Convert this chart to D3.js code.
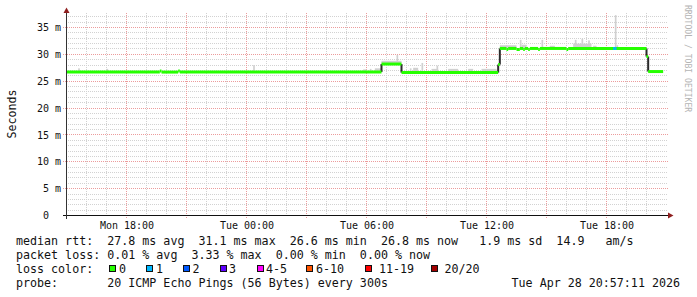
<!DOCTYPE html>
<html>
<head>
<meta charset="utf-8">
<script src="https://cdn.jsdelivr.net/npm/d3@7"></script>
<style>
  body { margin: 0; background: #fff; }
  text { font-family: "DejaVu Sans Mono", monospace; white-space: pre; }
</style>
</head>
<body>
<svg id="chart"></svg>
<script>
// ---------- DATA ----------
const timeStart = "2026-04-27 15:00";
const timeEnd = "2026-04-28 21:00";
const xTicks = ["2026-04-27 18:00", "2026-04-28 00:00", "2026-04-28 06:00", "2026-04-28 12:00", "2026-04-28 18:00"];
const yTicks = [0, 5, 10, 15, 20, 25, 30, 35]; // milliseconds
const yMax = 37.7;

// median rtt (ms), each value holds until the next time
const medianTimes = [
	"2026-04-27 15:00", "2026-04-27 19:40", "2026-04-27 19:45", "2026-04-27 20:35", "2026-04-27 20:40",
	"2026-04-28 06:45", "2026-04-28 07:45", "2026-04-28 12:35", "2026-04-28 12:40",
	"2026-04-28 13:00", "2026-04-28 13:05", "2026-04-28 13:30", "2026-04-28 13:40",
	"2026-04-28 13:50", "2026-04-28 13:55", "2026-04-28 14:05", "2026-04-28 14:10",
	"2026-04-28 14:35", "2026-04-28 14:40", "2026-04-28 16:00", "2026-04-28 16:05",
	"2026-04-28 20:00", "2026-04-28 20:05",
];
const medianValues = [
	26.7, 26.9, 26.7, 26.9, 26.7,
	28.2, 26.6, 28.1, 31.1,
	30.9, 31.1, 30.9, 31.1,
	30.9, 31.1, 30.9, 31.1,
	30.9, 31.1, 30.9, 31.1,
	29.6, 26.8,
];
const medianEnd = "2026-04-28 20:50";

// smoke: spread of the pings above the median (ms)
const smokeStart = [
	"2026-04-27 15:35", "2026-04-27 17:00", "2026-04-28 00:20", "2026-04-28 05:50", "2026-04-28 06:10",
	"2026-04-28 06:25", "2026-04-28 06:45", "2026-04-28 07:30", "2026-04-28 08:10", "2026-04-28 08:20",
	"2026-04-28 08:45", "2026-04-28 09:15", "2026-04-28 09:30", "2026-04-28 10:05", "2026-04-28 11:05",
	"2026-04-28 11:45", "2026-04-28 12:40", "2026-04-28 13:40", "2026-04-28 13:45", "2026-04-28 14:45",
	"2026-04-28 15:10", "2026-04-28 16:20", "2026-04-28 16:25", "2026-04-28 16:45", "2026-04-28 17:05",
	"2026-04-28 17:20", "2026-04-28 18:25", "2026-04-28 18:30",
];
const smokeEnd = [
	"2026-04-27 15:40", "2026-04-27 17:05", "2026-04-28 00:25", "2026-04-28 06:00", "2026-04-28 06:15",
	"2026-04-28 06:45", "2026-04-28 07:45", "2026-04-28 07:35", "2026-04-28 08:15", "2026-04-28 08:35",
	"2026-04-28 08:50", "2026-04-28 09:35", "2026-04-28 09:35", "2026-04-28 10:35", "2026-04-28 11:20",
	"2026-04-28 12:30", "2026-04-28 13:30", "2026-04-28 13:45", "2026-04-28 14:00", "2026-04-28 14:50",
	"2026-04-28 15:25", "2026-04-28 17:15", "2026-04-28 16:30", "2026-04-28 16:50", "2026-04-28 17:10",
	"2026-04-28 17:30", "2026-04-28 18:30", "2026-04-28 18:35",
];
const smokeHigh = [
	27.4, 27.3, 28.0, 27.2, 27.3,
	27.4, 28.8, 29.9, 27.4, 27.5,
	28.4, 27.3, 27.9, 27.3, 27.3,
	27.3, 31.7, 32.7, 31.8, 32.7,
	31.6, 32.0, 32.7, 32.9, 32.6,
	31.6, 37.3, 31.7,
];

// packet loss (lost pings of 20)
const lossTimes = ["2026-04-28 18:20", "2026-04-28 18:25"];
const lossCounts = [1, 1];

const lossLabels = ["0", "1", "2", "3", "4-5", "6-10", "11-19", "20/20"];
const lossColors = ["#26ff00", "#00b8ff", "#0059ff", "#5e00ff", "#ff00ff", "#ff5500", "#ff0000", "#a10000"];
const lossLimits = [0, 1, 2, 3, 5, 10, 19, 20];

const rttStats = [27.8, 31.1, 26.6, 26.8]; // avg max min now
const rttSd = 1.9;
const rttAmS = 14.9;
const lossStats = [0.01, 3.33, 0.00, 0.00]; // avg max min now
const probeText = "20 ICMP Echo Pings (56 Bytes) every 300s";
const stampText = "Tue Apr 28 20:57:11 2026";

// ---------- CHART ----------
const size = { w: 697, h: 297 };
const plot = { left: 66.5, right: 666.5, top: 13, bottom: 215.5 };
const parse = d3.timeParse("%Y-%m-%d %H:%M");
const snap = (v) => Math.round(v - 0.5) + 0.5;

const svg = d3.select("#chart").attr("width", size.w).attr("height", size.h);
svg.append("rect").attr("width", size.w).attr("height", size.h).attr("fill", "#fff");

const xScale = d3.scaleTime()
	.domain([parse(timeStart), parse(timeEnd)])
	.range([plot.left, plot.right]);
const yScale = d3.scaleLinear()
	.domain([0, yMax])
	.range([plot.bottom, plot.top]);

// grid
const grid = svg.append("g").attr("stroke-width", 1).attr("stroke-dasharray", "1,1");
const minorY = d3.range(1, Math.floor(yMax) + 1).filter((v) => v % 5 !== 0);
grid.selectAll(".hmin").data(minorY).enter().append("line")
	.attr("x1", 66).attr("x2", 668)
	.attr("y1", (d) => snap(yScale(d))).attr("y2", (d) => snap(yScale(d)))
	.attr("stroke", "#d2d2d2");
const hours = d3.timeHour.range(xScale.domain()[0], xScale.domain()[1]).slice(1);
grid.selectAll(".vmin").data(hours.filter((d) => d.getHours() % 3 !== 0)).enter().append("line")
	.attr("x1", (d) => snap(xScale(d))).attr("x2", (d) => snap(xScale(d)))
	.attr("y1", plot.top).attr("y2", 217)
	.attr("stroke", "#d2d2d2");
grid.selectAll(".hmaj").data(yTicks.slice(1)).enter().append("line")
	.attr("x1", 63).attr("x2", 668)
	.attr("y1", (d) => snap(yScale(d))).attr("y2", (d) => snap(yScale(d)))
	.attr("stroke", "#ec9c9c");
grid.selectAll(".vmaj").data(hours.filter((d) => d.getHours() % 3 === 0)).enter().append("line")
	.attr("x1", (d) => snap(xScale(d))).attr("x2", (d) => snap(xScale(d)))
	.attr("y1", plot.top).attr("y2", 219)
	.attr("stroke", "#ec9c9c");

// median lookup
const medT = medianTimes.map(parse);
const medianAt = (t) => medianValues[Math.max(0, d3.bisectRight(medT, t) - 1)];

// smoke
svg.append("g").selectAll("rect").data(smokeHigh).enter().append("rect")
	.attr("x", (d, i) => xScale(parse(smokeStart[i])))
	.attr("width", (d, i) => xScale(parse(smokeEnd[i])) - xScale(parse(smokeStart[i])))
	.attr("y", (d) => yScale(d))
	.attr("height", (d, i) => Math.max(0, yScale(medianAt(parse(smokeStart[i]))) - yScale(d)))
	.attr("fill", "#d0d0d0");

// median segments
const segs = medianValues.map((v, i) => ({
	t0: medT[i],
	t1: i < medT.length - 1 ? medT[i + 1] : parse(medianEnd),
	v: v,
}));
svg.append("g").selectAll("line").data(segs.slice(1).map((s, i) => ({ t: s.t0, a: segs[i].v, b: s.v }))
	.filter((d) => Math.abs(d.a - d.b) > 0.5)).enter().append("line")
	.attr("x1", (d) => xScale(d.t)).attr("x2", (d) => xScale(d.t))
	.attr("y1", (d) => yScale(d.a)).attr("y2", (d) => yScale(d.b))
	.attr("stroke", "#2b2b2b").attr("stroke-width", 2);
svg.append("g").selectAll("line").data(segs).enter().append("line")
	.attr("x1", (d) => xScale(d.t0)).attr("x2", (d) => xScale(d.t1))
	.attr("y1", (d) => yScale(d.v)).attr("y2", (d) => yScale(d.v))
	.attr("stroke", lossColors[0]).attr("stroke-width", 3);

// loss coloured bits of the median line
const lossColor = (n) => lossColors[lossLimits.findIndex((l) => n <= l)];
svg.append("g").selectAll("line").data(lossCounts).enter().append("line")
	.attr("x1", (d, i) => xScale(parse(lossTimes[i])))
	.attr("x2", (d, i) => xScale(d3.timeMinute.offset(parse(lossTimes[i]), 5)))
	.attr("y1", (d, i) => yScale(medianAt(parse(lossTimes[i]))))
	.attr("y2", (d, i) => yScale(medianAt(parse(lossTimes[i]))))
	.attr("stroke", (d) => lossColor(d)).attr("stroke-width", 3);

// axes
const yAxis = svg.append("g")
	.attr("transform", `translate(${plot.left},0)`)
	.call(d3.axisLeft(yScale).tickValues(yTicks).tickSize(0).tickPadding(5.5)
		.tickFormat((d) => (d === 0 ? "0  " : `${d} m`)));
yAxis.select(".domain").remove();
yAxis.selectAll("text").attr("font-size", 10).attr("fill", "#111")
	.attr("font-family", "DejaVu Sans Mono");

const xAxis = svg.append("g")
	.attr("transform", `translate(0,${plot.bottom})`)
	.call(d3.axisBottom(xScale).tickValues(xTicks.map(parse)).tickSize(0).tickPadding(6.5)
		.tickFormat(d3.timeFormat("%a %H:%M")));
xAxis.select(".domain").remove();
xAxis.selectAll("text").attr("font-size", 10).attr("fill", "#111")
	.attr("font-family", "DejaVu Sans Mono");

svg.append("line").attr("x1", 63).attr("x2", 670).attr("y1", plot.bottom).attr("y2", plot.bottom)
	.attr("stroke", "#111");
svg.append("line").attr("x1", plot.left).attr("x2", plot.left).attr("y1", 219).attr("y2", 10)
	.attr("stroke", "#333");
svg.append("path").attr("d", "M63.5,13 L69.5,13 L66.5,7.5 Z").attr("fill", "#8f1f1f");
svg.append("path").attr("d", "M668,212.5 L668,218.5 L673.5,215.5 Z").attr("fill", "#8f1f1f");

// labels
svg.append("text").attr("transform", "translate(15.5,114) rotate(-90)")
	.attr("text-anchor", "middle").attr("font-size", 11.6).attr("fill", "#111").text("Seconds");
svg.append("text").attr("transform", "translate(685,5) rotate(90)")
	.attr("font-size", 8.1).attr("fill", "#b4b4b4").text("RRDTOOL / TOBI OETIKER");

// legend
const fs = 11.67;
const f1 = (v) => v.toFixed(1);
const f2 = (v) => v.toFixed(2);
const rows = [
	`median rtt:  ${f1(rttStats[0])} ms avg  ${f1(rttStats[1])} ms max  ${f1(rttStats[2])} ms min  ${f1(rttStats[3])} ms now   ${f1(rttSd)} ms sd  ${f1(rttAmS)}   am/s`,
	`packet loss: ${f2(lossStats[0])} % avg  ${f2(lossStats[1])} % max  ${f2(lossStats[2])} % min  ${f2(lossStats[3])} % now`,
	`loss color:`,
	`probe:       ${probeText}`,
];
const rowY = [244.5, 258.8, 273, 287.2];
svg.append("g").selectAll("text").data(rows).enter().append("text")
	.attr("x", 16).attr("y", (d, i) => rowY[i])
	.attr("font-size", fs).attr("fill", "#111").text((d) => d);
svg.append("text").attr("x", 680).attr("y", rowY[3]).attr("text-anchor", "end")
	.attr("font-size", fs).attr("fill", "#111").text(stampText);

// swatch and label positions along the loss colour row
const swatchX = [109.5, 146.5, 183.5, 220.5, 257.5, 306.5, 365.5, 431.5];
const swatchTextX = [119, 156, 192.5, 229, 266, 316, 379, 444.5];
lossLabels.forEach((lab, i) => {
	svg.append("rect").attr("x", swatchX[i]).attr("y", 265.5).attr("width", 6).attr("height", 6)
		.attr("fill", lossColors[i]).attr("stroke", "#111").attr("stroke-width", 1);
	svg.append("text").attr("x", swatchTextX[i]).attr("y", rowY[2])
		.attr("font-size", fs).attr("fill", "#111").text(lab);
});
</script>
</body>
</html>
